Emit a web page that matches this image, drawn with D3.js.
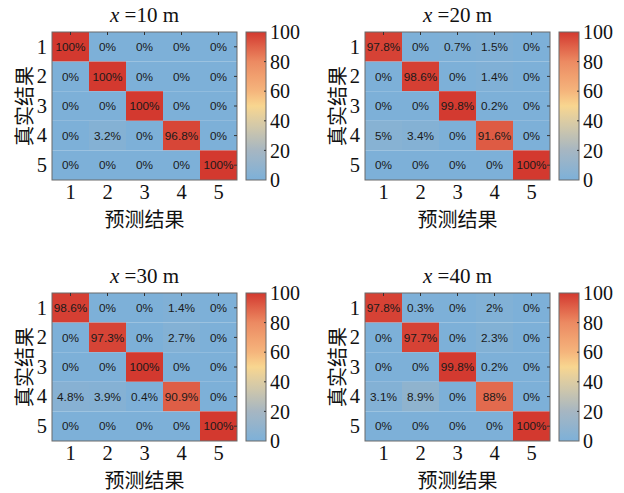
<!DOCTYPE html>
<html>
<head>
<meta charset="utf-8">
<script src="https://cdn.jsdelivr.net/npm/d3@7"></script>
<style>
  body { margin: 0; background: #fff; }
  svg { display: block; }
</style>
</head>
<body>
<div id="chart"></div>
<script>
// classes on both axes
var classes = ["1", "2", "3", "4", "5"];
var titles = ["10", "20", "30", "40"];
var cbTicks = [0, 20, 40, 60, 80, 100];

// rows = 真实结果, columns = 预测结果 (percent)
var m10 = [
  [100, 0, 0, 0, 0],
  [0, 100, 0, 0, 0],
  [0, 0, 100, 0, 0],
  [0, 3.2, 0, 96.8, 0],
  [0, 0, 0, 0, 100]];
var m20 = [
  [97.8, 0, 0.7, 1.5, 0],
  [0, 98.6, 0, 1.4, 0],
  [0, 0, 99.8, 0.2, 0],
  [5, 3.4, 0, 91.6, 0],
  [0, 0, 0, 0, 100]];
var m30 = [
  [98.6, 0, 0, 1.4, 0],
  [0, 97.3, 0, 2.7, 0],
  [0, 0, 100, 0, 0],
  [4.8, 3.9, 0.4, 90.9, 0],
  [0, 0, 0, 0, 100]];
var m40 = [
  [97.8, 0.3, 0, 2, 0],
  [0, 97.7, 0, 2.3, 0],
  [0, 0, 99.8, 0.2, 0],
  [3.1, 8.9, 0, 88, 0],
  [0, 0, 0, 0, 100]];
var mats = [m10, m20, m30, m40];

var color = d3.scaleLinear()
    .domain([0, 20, 40, 50, 60, 80, 100])
    .range(["#7db0d8", "#a6b6c2", "#dccca3", "#f8d690", "#f5b57c", "#ec8a62", "#d3392f"])
    .clamp(true);

var svg = d3.select("#chart").append("svg")
    .attr("width", 624).attr("height", 493);

var grad = svg.append("defs").append("linearGradient")
    .attr("id", "cbgrad")
    .attr("x1", 0).attr("y1", 1).attr("x2", 0).attr("y2", 0);
d3.range(0, 101, 5).forEach(function(v) {
  grad.append("stop").attr("offset", v + "%").attr("stop-color", color(v));
});

var offsets = [[0, 0], [313, 0], [0, 261], [313, 261]];
var serif = "'Liberation Serif', 'Times New Roman', serif";
var cjk = "'Noto Sans CJK SC', serif";

var hx0 = 52, hx1 = 237, hy0 = 32, hy1 = 180;
var cx0 = 246, cx1 = 266;

mats.forEach(function(mat, k) {
  var g = svg.append("g")
      .attr("transform", "translate(" + offsets[k][0] + "," + offsets[k][1] + ")");

  var x = d3.scaleBand().domain(classes).range([hx0, hx1]);
  var y = d3.scaleBand().domain(classes).range([hy0, hy1]);

  var cells = [];
  mat.forEach(function(row, i) {
    row.forEach(function(v, j) {
      cells.push({r: classes[i], c: classes[j], v: v});
    });
  });

  g.selectAll("rect.cell")
      .data(cells)
      .enter().append("rect")
      .attr("class", "cell")
      .attr("x", function(d) { return x(d.c); })
      .attr("y", function(d) { return y(d.r); })
      .attr("width", x.bandwidth())
      .attr("height", y.bandwidth())
      .attr("fill", function(d) { return color(d.v); });

  g.selectAll("text.val")
      .data(cells)
      .enter().append("text")
      .attr("class", "val")
      .attr("x", function(d) { return x(d.c) + x.bandwidth() / 2; })
      .attr("y", function(d) { return y(d.r) + y.bandwidth() / 2; })
      .attr("dy", "0.36em")
      .attr("text-anchor", "middle")
      .attr("font-family", "'Liberation Sans', Arial, sans-serif")
      .attr("font-size", 11.8)
      .attr("fill", "#1a1a1a")
      .text(function(d) { return d.v + "%"; });

  // box + little inner ticks (matlab style)
  g.append("rect")
      .attr("x", hx0).attr("y", hy0)
      .attr("width", hx1 - hx0).attr("height", hy1 - hy0)
      .attr("fill", "none").attr("stroke", "#6b6b6b").attr("stroke-width", 1);
  classes.forEach(function(c) {
    var cx = x(c) + x.bandwidth() / 2, cy = y(c) + y.bandwidth() / 2;
    g.append("line").attr("x1", cx).attr("x2", cx).attr("y1", hy0).attr("y2", hy0 + 3)
        .attr("stroke", "#333");
    g.append("line").attr("x1", hx1 - 3).attr("x2", hx1).attr("y1", cy).attr("y2", cy)
        .attr("stroke", "#333");
  });

  var xAxis = g.append("g")
      .attr("transform", "translate(0," + hy1 + ")")
      .call(d3.axisBottom(x).tickSize(0).tickPadding(5));
  var yAxis = g.append("g")
      .attr("transform", "translate(" + hx0 + ",0)")
      .call(d3.axisLeft(y).tickSize(0).tickPadding(5));
  [xAxis, yAxis].forEach(function(a) {
    a.select(".domain").remove();
    a.selectAll("text")
        .attr("font-family", serif)
        .attr("font-size", 20.5)
        .attr("fill", "#111");
  });
  xAxis.selectAll("text").attr("dy", "0.68em");
  yAxis.selectAll("text").attr("dy", "0.33em");

  g.append("text")
      .attr("x", (hx0 + hx1) / 2)
      .attr("y", 227)
      .attr("text-anchor", "middle")
      .attr("font-family", cjk)
      .attr("font-size", 20)
      .attr("fill", "#111")
      .text("预测结果");

  g.append("text")
      .attr("transform", "translate(32," + ((hy0 + hy1) / 2) + ") rotate(-90)")
      .attr("text-anchor", "middle")
      .attr("font-family", cjk)
      .attr("font-size", 20)
      .attr("fill", "#111")
      .text("真实结果");

  var t = g.append("text")
      .attr("x", (hx0 + hx1) / 2)
      .attr("y", 22)
      .attr("text-anchor", "middle")
      .attr("font-family", serif)
      .attr("font-size", 21)
      .attr("fill", "#111");
  t.append("tspan").attr("font-style", "italic").text("x");
  t.append("tspan").text(" =" + titles[k] + " m");

  // colorbar
  var cb = d3.scaleLinear().domain([0, 100]).range([hy1, hy0]);
  g.append("rect")
      .attr("x", cx0).attr("y", hy0)
      .attr("width", cx1 - cx0).attr("height", hy1 - hy0)
      .attr("fill", "url(#cbgrad)")
      .attr("stroke", "#6b6b6b").attr("stroke-width", 1);
  var cbAxis = g.append("g")
      .attr("transform", "translate(" + cx1 + ",0)")
      .call(d3.axisRight(cb).tickValues(cbTicks).tickSize(0).tickPadding(4));
  cbAxis.select(".domain").remove();
  cbAxis.selectAll("text")
      .attr("font-family", serif)
      .attr("font-size", 20)
      .attr("fill", "#111")
      .attr("dy", "0.33em");
  cbTicks.slice(1, -1).forEach(function(v) {
    g.append("line").attr("x1", cx1 - 2).attr("x2", cx1).attr("y1", cb(v)).attr("y2", cb(v))
        .attr("stroke", "#333");
  });
});
</script>
</body>
</html>
